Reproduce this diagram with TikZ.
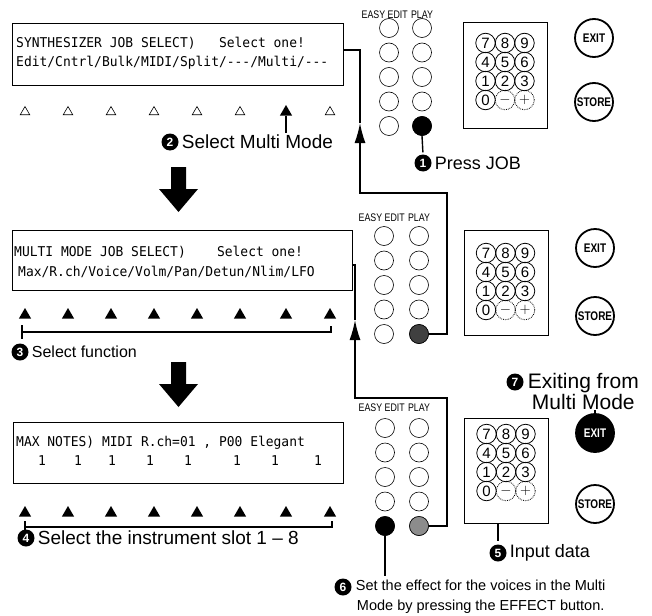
\documentclass[tikz,border=0pt]{standalone}
\usepackage{fontspec}
\setmainfont{Liberation Sans}
\newfontfamily\lcdfont[FakeStretch=0.96]{DejaVu Sans Mono}
\newfontfamily\narrowfont[FakeStretch=0.8]{Liberation Sans}
\usetikzlibrary{arrows.meta,positioning,shapes.geometric}
\newcommand\lcddash{-\kern0pt-\kern0pt-}
\tikzset{
 syn lcd/.style={draw,line width=1pt,inner sep=0pt},
 syn lcd text/.style={font=\lcdfont\fontsize{13.5}{15}\selectfont,anchor=west,inner sep=0pt},
 syn tri/.style={regular polygon,regular polygon sides=3,fill=black,inner sep=0pt,minimum size=14pt},
 syn tri off/.style={regular polygon,regular polygon sides=3,draw,line width=.6pt,inner sep=0pt,minimum size=11pt},
 syn button/.style={circle,draw,line width=.6pt,minimum size=19pt,inner sep=0pt},
 syn keypad/.style={draw,line width=1pt,minimum width=84pt,minimum height=105pt,inner sep=0pt},
 syn key/.style={circle,draw,line width=.8pt,minimum size=19.5pt,inner sep=0pt,font=\fontsize{15}{15}\selectfont},
 syn round/.style={circle,draw,line width=1.8pt,minimum size=38pt,inner sep=0pt,font=\narrowfont\bfseries\fontsize{12.5}{12}\selectfont},
 syn badge/.style={circle,fill=black,text=white,minimum size=17pt,inner sep=0pt,font=\bfseries\fontsize{12}{12}\selectfont},
 syn label/.style={font=\fontsize{18}{20}\selectfont,inner sep=0pt},
 syn panel label/.style={font=\narrowfont\fontsize{11}{11}\selectfont,inner sep=0pt},
 syn link/.style={line width=1.4pt},
 syn bracket/.style={line width=1.2pt},
 syn big arrow/.style={fill=black}
}
\begin{document}
\begin{tikzpicture}[x=1pt,y=-1pt]
 \useasboundingbox (0,0) rectangle (652,615);

 \node[syn lcd,minimum width=331pt,minimum height=62pt] (lcdA) at (177.5,55) {};
 \node[syn lcd,minimum width=340pt,minimum height=60pt] (lcdB) at (182,260) {};
 \node[syn lcd,minimum width=330pt,minimum height=61pt] (lcdC) at (178,452.5) {};

 \node[syn lcd text] (txtA1) at (16,43) {SYNTHESIZER JOB SELECT)\ \ \ Select one!};
 \node[syn lcd text] (txtA2) at (16,63) {Edit/Cntrl/Bulk/MIDI/Split/\lcddash/Multi/\lcddash};
 \node[syn lcd text] (txtB1) at (14,252) {MULTI MODE JOB SELECT)\ \ \ \ Select one!};
 \node[syn lcd text] (txtB2) at (18,272) {Max/R.ch/Voice/Volm/Pan/Detun/Nlim/LFO};
 \node[syn lcd text] (txtC1) at (16,443) {MAX NOTES) MIDI R.ch=01 , P00 Elegant};
 \foreach \x [count=\i] in {42,78,112,150,188,237,275,318}
  \node[syn lcd text,anchor=center] (tick\i) at (\x,461) {1};

 \foreach \x/\s [count=\i] in {25/syn tri off,68/syn tri off,111/syn tri off,154/syn tri off,
   197/syn tri off,240/syn tri off,286/syn tri,330/syn tri off} {
  \node[\s] (triA\i) at (\x,112) {};
  \node[syn tri] (triB\i) at (\x,315) {};
  \node[syn tri] (triC\i) at (\x,513) {};
 }

 \foreach \t in {167,362}
  \fill[syn big arrow] (171,\t) -- ++(15,0) -- ++(0,22) -- ++(12,0) -- ++(-19.5,23)
   -- ++(-19.5,-23) -- ++(12,0) -- cycle;

 \foreach \p/\xa/\xb/\y in {A/389/422/28,B/384/419/236,C/385/419/428}
  \foreach \r in {1,...,5} {
   \node[syn button] (btn\p1\r) at (\xa,{\y+24.5*(\r-1)}) {};
   \node[syn button] (btn\p2\r) at (\xb,{\y+24.5*(\r-1)}) {};
  }
 \node[syn button,fill=black] (pressA) at (btnA25) {};
 \node[syn button,fill=black!75] (pressB) at (btnB25) {};
 \node[syn button,fill=black] (pressC1) at (btnC15) {};
 \node[syn button,fill=black!45] (pressC2) at (btnC25) {};

 \foreach \p/\y in {A/15,B/218,C/408} {
  \node[syn panel label] (play\p) at (btn\p21 |- 0,\y) {PLAY};
  \node[syn panel label,left=3pt of play\p] (easy\p) {EASY EDIT};
 }

 \foreach \p/\cx/\cy/\ky in {A/505.5/75.5/43,B/506/282.5/253,C/506.5/470.5/434} {
  \node[syn keypad] (pad\p) at (\cx,\cy) {};
  \foreach \k [count=\n from 0] in {7,8,9,4,5,6,1,2,3} {
   \pgfmathtruncatemacro\col{mod(\n,3)}
   \pgfmathtruncatemacro\row{\n/3}
   \node[syn key] (key\p\k) at ({\cx-20+19.5*\col},{\ky+19*\row}) {\k};
  }
  \node[syn key] (key\p0) at ({\cx-20},{\ky+57}) {0};
  \node[syn key,densely dotted] (key\p m) at ({\cx-0.5},{\ky+57}) {$-$};
  \node[syn key,densely dotted] (key\p p) at ({\cx+19},{\ky+57}) {$+$};
 }

 \node[syn round] (exitA) at (594,38) {EXIT};
 \node[syn round] (storeA) at (594,102) {STORE};
 \node[syn round] (exitB) at (595,248) {EXIT};
 \node[syn round] (storeB) at (595,316) {STORE};
 \node[syn round,fill=black,text=white] (exitC) at (595,433) {EXIT};
 \node[syn round] (storeC) at (595,504) {STORE};

 \coordinate (tipA) at (360,123);
 \coordinate (tipB) at (355,320);
 \draw[syn link,-{Latex[length=20pt,width=11pt]}] (pressB.east) -| (447,193) -- (tipA |- 0,193) -- (tipA);
 \draw[syn link] (tipA) |- (lcdA.east |- 0,50);
 \draw[syn link,-{Latex[length=20pt,width=11pt]}] (pressC2.east) -| (447,398) -- (tipB |- 0,398) -- (tipB);
 \draw[syn link] (tipB) |- (lcdB.east |- 0,265);

 \node[syn badge] (bOne) at (423,163) {1};
 \node[syn label,right=3pt of bOne] (lOne) {Press JOB};
 \draw[syn link,shorten >=2pt] (pressA.south) -- (bOne.north);

 \node[syn badge] (bTwo) at (170,142) {2};
 \node[syn label,font=\fontsize{19}{20}\selectfont,right=3pt of bTwo] (lTwo) {Select Multi Mode};
 \draw[syn bracket,shorten >=2pt] (triA7.south) -- (triA7 |- lTwo.north);

 \node[syn badge] (bThree) at (20,352) {3};
 \node[syn label,font=\fontsize{16}{20}\selectfont,right=3pt of bThree] (lThree) {Select function};
 \draw[syn bracket] (22,325) -- (22,339) (22,332) -- (331,332) -- (331,326);

 \node[syn badge] (bFour) at (26,538) {4};
 \node[syn label,font=\fontsize{19}{20}\selectfont,right=3pt of bFour] (lFour) {Select the instrument slot 1 -- 8};
 \draw[syn bracket] (25,521) -- (25,533) (25,527) -- (332,527) -- (332,521);

 \node[syn badge] (bFive) at (498,553) {5};
 \node[syn label,right=3pt of bFive] (lFive) {Input data};
 \draw[syn bracket,shorten >=3pt] (bFive |- padC.south) -- (bFive.north);

 \node[syn badge] (bSix) at (343,587) {6};
 \node[syn label,font=\fontsize{14.5}{20}\selectfont,align=center,anchor=north west] (lSix)
  at ([xshift=4pt,yshift=7pt]bSix.east) {Set the effect for the voices in the Multi\\Mode by pressing the EFFECT button.};
 \draw[syn bracket,shorten >=4pt] (pressC1.south) -- (pressC1 |- lSix.north);

 \node[syn badge] (bSeven) at (515,382) {7};
 \node[syn label,font=\fontsize{21}{21}\selectfont,align=center,anchor=north west] (lSeven)
  at ([xshift=4pt,yshift=9pt]bSeven.east) {Exiting from\\Multi Mode};
 \draw[syn bracket] (exitC.north) -- (exitC |- lSeven.south);
\end{tikzpicture}
\end{document}
